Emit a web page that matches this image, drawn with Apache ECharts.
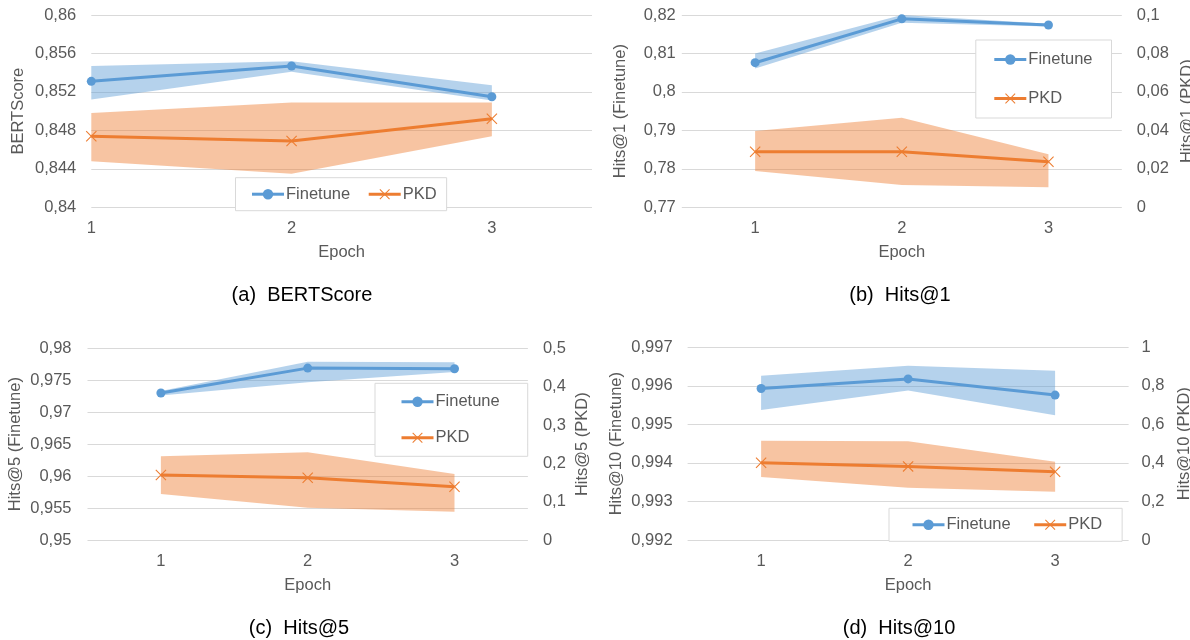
<!DOCTYPE html>
<html>
<head>
<meta charset="utf-8">
<script src="https://cdn.jsdelivr.net/npm/echarts@6/dist/echarts.min.js"></script>
<style>html,body{margin:0;padding:0;background:#fff;}#c{width:1190px;height:640px;}</style>
</head>
<body>
<div id="c"></div>
<script>
// ---------- data ----------
const epochs = [1, 2, 3];
const epochLabels = ['1', '2', '3'];

// (a) BERTScore
const bertFinetune   = [0.8531, 0.8547, 0.8515];
const bertFinetuneLo = [0.8512, 0.8541, 0.8511];
const bertFinetuneHi = [0.8547, 0.8552, 0.8527];
const bertPKD        = [0.8474, 0.8469, 0.8492];
const bertPKDLo      = [0.8448, 0.8435, 0.8474];
const bertPKDHi      = [0.8498, 0.8509, 0.8509];

// (b) Hits@1
const h1Finetune   = [0.8076, 0.8190, 0.8174];
const h1FinetuneLo = [0.8061, 0.8180, 0.8170];
const h1FinetuneHi = [0.8100, 0.8200, 0.8177];
const h1PKD        = [0.0289, 0.0289, 0.0237];
const h1PKDLo      = [0.0189, 0.0116, 0.0104];
const h1PKDHi      = [0.0397, 0.0466, 0.0276];

// (c) Hits@5
const h5Finetune   = [0.9730, 0.9769, 0.9768];
const h5FinetuneLo = [0.9726, 0.9747, 0.9763];
const h5FinetuneHi = [0.9733, 0.9779, 0.9778];
const h5PKD        = [0.1695, 0.1625, 0.1390];
const h5PKDLo      = [0.1200, 0.0843, 0.0739];
const h5PKDHi      = [0.2183, 0.2287, 0.1721];

// (d) Hits@10
const h10Finetune   = [0.99593, 0.99618, 0.99576];
const h10FinetuneLo = [0.99537, 0.99588, 0.99524];
const h10FinetuneHi = [0.99626, 0.99652, 0.99639];
const h10PKD        = [0.401, 0.382, 0.354];
const h10PKDLo      = [0.327, 0.271, 0.251];
const h10PKDHi      = [0.515, 0.513, 0.406];

const captions = ['(a)  BERTScore', '(b)  Hits@1', '(c)  Hits@5', '(d)  Hits@10'];

// ---------- styling ----------
const FONT = 'Liberation Sans, Arial, Helvetica, sans-serif';
const GRAY = '#595959';
const GRIDC = '#D9D9D9';
const BLUE = '#5B9BD5';
const ORANGE = '#ED7D31';
const BLUE_BAND = 'rgba(91,155,213,0.45)';
const ORANGE_BAND = 'rgba(237,125,49,0.45)';
const FS = 16.5;
const XSYM = 'path://M0,0.7L0.7,0L5,4.3L9.3,0L10,0.7L5.7,5L10,9.3L9.3,10L5,5.7L0.7,10L0,9.3L4.3,5Z';

function fmt(v) { return String(parseFloat(v.toFixed(5))).replace('.', ','); }

function yAxis(gridIndex, pos, min, max, interval, name, nameGap, margin, split) {
  return {
    type: 'value', gridIndex, position: pos, min, max, interval,
    axisLine: { show: false }, axisTick: { show: false },
    splitLine: { show: split, lineStyle: { color: GRIDC, width: 1 } },
    axisLabel: { color: GRAY, fontSize: FS, fontFamily: FONT, margin, formatter: fmt },
    name, nameLocation: 'middle', nameGap,
    nameTextStyle: { color: GRAY, fontSize: FS, fontFamily: FONT }
  };
}

function catX(gridIndex) {
  return {
    type: 'category', gridIndex, data: epochLabels, boundaryGap: true,
    axisLine: { show: false }, axisTick: { show: false },
    axisLabel: { color: GRAY, fontSize: FS, fontFamily: FONT, margin: 13 },
    name: 'Epoch', nameLocation: 'middle', nameGap: 37,
    nameTextStyle: { color: GRAY, fontSize: FS, fontFamily: FONT }
  };
}

function band(xIdx, yIdx, isCat, lo, hi, color) {
  return {
    type: 'custom', xAxisIndex: xIdx, yAxisIndex: yIdx, silent: true, z: 1,
    data: epochs.map((e, i) => [isCat ? i : e, lo[i], hi[i]]),
    encode: { x: 0, y: [1, 2] },
    renderItem: function (params, api) {
      if (params.dataIndex !== 0) return null;
      const pts = [];
      for (let i = 0; i < epochs.length; i++) pts.push(api.coord([isCat ? i : epochs[i], hi[i]]));
      for (let i = epochs.length - 1; i >= 0; i--) pts.push(api.coord([isCat ? i : epochs[i], lo[i]]));
      return { type: 'polygon', shape: { points: pts }, style: { fill: color } };
    }
  };
}

function line(name, xIdx, yIdx, isCat, vals) {
  const isFt = name === 'Finetune';
  return {
    type: 'line', name, xAxisIndex: xIdx, yAxisIndex: yIdx, z: 3,
    data: isCat ? vals.slice() : epochs.map((e, i) => [e, vals[i]]),
    symbol: isFt ? 'circle' : XSYM,
    symbolSize: isFt ? 9 : 11,
    showSymbol: true,
    lineStyle: { width: 3, color: isFt ? BLUE : ORANGE },
    itemStyle: { color: isFt ? BLUE : ORANGE },
    emphasis: { disabled: true }
  };
}

function legend(opts) {
  return Object.assign({
    data: ['Finetune', 'PKD'], selectedMode: false,
    itemWidth: 32, itemHeight: 13,
    lineStyle: { width: 3 },
    backgroundColor: '#fff', borderColor: GRIDC, borderWidth: 1, borderRadius: 0,
    textStyle: { color: GRAY, fontSize: FS, fontFamily: FONT, padding: [0, 0, 0, -3] }
  }, opts);
}

function caption(text, x, y) {
  return { text, left: x, top: y, textAlign: 'center', padding: 0,
    textStyle: { fontSize: 20, fontWeight: 'normal', color: '#000', fontFamily: FONT } };
}

const option = {
  animation: false,
  backgroundColor: '#fff',
  title: [
    caption(captions[0], 302, 285),
    caption(captions[1], 900, 285),
    caption(captions[2], 299, 618),
    caption(captions[3], 899, 618)
  ],
  grid: [
    { left: 91.3, top: 15, width: 500.7, height: 192.3, outerBoundsMode: 'none' },
    { left: 681.8, top: 15, width: 440, height: 192.3, outerBoundsMode: 'none' },
    { left: 87.5, top: 348.3, width: 440.4, height: 191.7, outerBoundsMode: 'none' },
    { left: 687.6, top: 347.3, width: 441, height: 192.7, outerBoundsMode: 'none' }
  ],
  xAxis: [
    {
      type: 'value', gridIndex: 0, min: 1, max: 3.5, interval: 1,
      axisLine: { show: false }, axisTick: { show: false }, splitLine: { show: false },
      axisLabel: { color: GRAY, fontSize: FS, fontFamily: FONT, margin: 13,
        formatter: v => (Number.isInteger(v) ? String(v) : '') },
      name: 'Epoch', nameLocation: 'middle', nameGap: 37,
      nameTextStyle: { color: GRAY, fontSize: FS, fontFamily: FONT }
    },
    catX(1), catX(2), catX(3)
  ],
  yAxis: [
    yAxis(0, 'left', 0.84, 0.86, 0.004, 'BERTScore', 64, 15, true),
    yAxis(1, 'left', 0.77, 0.82, 0.01, 'Hits@1 (Finetune)', 53, 6, true),
    yAxis(1, 'right', 0, 0.1, 0.02, 'Hits@1 (PKD)', 57, 15, false),
    yAxis(2, 'left', 0.95, 0.98, 0.005, 'Hits@5 (Finetune)', 64, 16, true),
    yAxis(2, 'right', 0, 0.5, 0.1, 'Hits@5 (PKD)', 46, 15, false),
    yAxis(3, 'left', 0.992, 0.997, 0.001, 'Hits@10 (Finetune)', 63, 15, true),
    yAxis(3, 'right', 0, 1, 0.2, 'Hits@10 (PKD)', 47, 13, false)
  ],
  legend: [
    legend({ orient: 'horizontal', left: 235.5, top: 177.7, itemGap: 17, padding: [8, 10, 8, 15] }),
    legend({ orient: 'vertical', left: 975.8, top: 40, itemGap: 22, padding: [11, 19, 11, 17] }),
    legend({ orient: 'vertical', left: 375, top: 383.3, itemGap: 19, padding: [10, 28, 10, 25] }),
    legend({ orient: 'horizontal', left: 889, top: 508.3, itemGap: 22, padding: [8, 20, 8, 22] })
  ],
  series: [
    band(0, 0, false, bertFinetuneLo, bertFinetuneHi, BLUE_BAND),
    band(0, 0, false, bertPKDLo, bertPKDHi, ORANGE_BAND),
    line('Finetune', 0, 0, false, bertFinetune),
    line('PKD', 0, 0, false, bertPKD),

    band(1, 1, true, h1FinetuneLo, h1FinetuneHi, BLUE_BAND),
    band(1, 2, true, h1PKDLo, h1PKDHi, ORANGE_BAND),
    line('Finetune', 1, 1, true, h1Finetune),
    line('PKD', 1, 2, true, h1PKD),

    band(2, 3, true, h5FinetuneLo, h5FinetuneHi, BLUE_BAND),
    band(2, 4, true, h5PKDLo, h5PKDHi, ORANGE_BAND),
    line('Finetune', 2, 3, true, h5Finetune),
    line('PKD', 2, 4, true, h5PKD),

    band(3, 5, true, h10FinetuneLo, h10FinetuneHi, BLUE_BAND),
    band(3, 6, true, h10PKDLo, h10PKDHi, ORANGE_BAND),
    line('Finetune', 3, 5, true, h10Finetune),
    line('PKD', 3, 6, true, h10PKD)
  ]
};

const chart = echarts.init(document.getElementById('c'), null, { renderer: 'canvas' });
chart.setOption(option);
</script>
</body>
</html>
